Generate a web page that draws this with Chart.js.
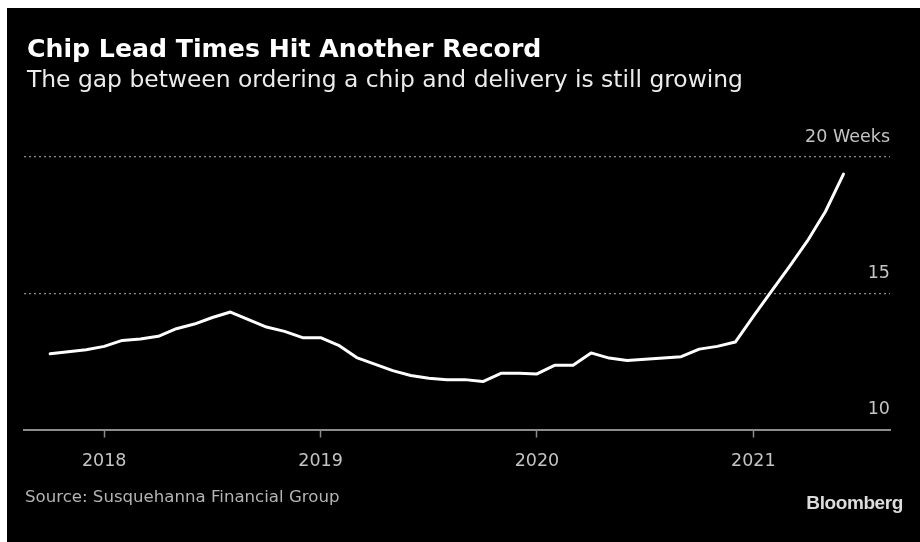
<!DOCTYPE html>
<html>
<head>
    <title>Chip Lead Times Hit Another Record</title>
    <script src="https://cdn.jsdelivr.net/npm/chart.js"></script>
    <style>
        body { margin: 0; background: #fff; width: 920px; height: 542px; overflow: hidden; position: relative; font-family: 'DejaVu Sans', sans-serif; }
        #panel { position: absolute; left: 7px; top: 8px; width: 913px; height: 534px; background: #000; }
        #leadChart { position: absolute; left: 7px; top: 8px; }
        .txt { position: absolute; white-space: nowrap; }
        #title { left: 27px; top: 36px; font-size: 25.2px; line-height: 25px; font-weight: bold; color: #fff; }
        #subtitle { left: 27px; top: 68px; font-size: 23.4px; line-height: 23px; color: #ececec; }
        #source { left: 25px; top: 489px; font-size: 16.6px; line-height: 16.5px; color: #b4b4b4; }
        #brand { right: 17px; top: 493px; font-family: 'Liberation Sans', Arial, sans-serif; font-size: 19px; line-height: 19px; font-weight: bold; color: #dcdcdc; letter-spacing: -0.4px; }
    </style>
</head>
<body>
    <div id="panel"></div>
    <canvas id="leadChart" width="913" height="534"></canvas>
    <div class="txt" id="title">Chip Lead Times Hit Another Record</div>
    <div class="txt" id="subtitle">The gap between ordering a chip and delivery is still growing</div>
    <div class="txt" id="source">Source: Susquehanna Financial Group</div>
    <div class="txt" id="brand">Bloomberg</div>
    <script>
        // monthly lead times in weeks
        const months = [
            '2017-10', '2017-11', '2017-12',
            '2018-01', '2018-02', '2018-03', '2018-04', '2018-05', '2018-06',
            '2018-07', '2018-08', '2018-09', '2018-10', '2018-11', '2018-12',
            '2019-01', '2019-02', '2019-03', '2019-04', '2019-05', '2019-06',
            '2019-07', '2019-08', '2019-09', '2019-10', '2019-11', '2019-12',
            '2020-01', '2020-02', '2020-03', '2020-04', '2020-05', '2020-06',
            '2020-07', '2020-08', '2020-09', '2020-10', '2020-11', '2020-12',
            '2021-01', '2021-02', '2021-03', '2021-04', '2021-05', '2021-06'
        ];
        const leadWeeks = [
            12.78, 12.85, 12.93,
            13.05, 13.27, 13.32, 13.42, 13.70, 13.87,
            14.11, 14.31, 14.03, 13.76, 13.60, 13.37,
            13.37, 13.09, 12.64, 12.40, 12.16, 11.98,
            11.88, 11.83, 11.83, 11.76, 12.06, 12.06,
            12.04, 12.36, 12.36, 12.81, 12.62, 12.53,
            12.58, 12.62, 12.67, 12.95, 13.05, 13.21,
            14.15, 15.07, 15.98, 16.92, 18.00, 19.37
        ];
        const yearTicks = ['2018', '2019', '2020', '2021'];
        const weekTicks = [10, 15, 20];
        const weekTickLabels = ['10', '15', '20 Weeks'];

        // months counted from Jan 2018
        function monthIndex(s) {
            let parts = s.split('-');
            return (parseInt(parts[0]) - 2018) * 12 + parseInt(parts[1]) - 1;
        }
        const points = months.map((m, i) => ({ x: monthIndex(m), y: leadWeeks[i] }));
        const yearPos = yearTicks.map(y => monthIndex(y + '-01'));

        const axisFont = { family: 'DejaVu Sans', size: 17.5 };

        new Chart(document.getElementById('leadChart').getContext('2d'), {
            type: 'line',
            data: {
                datasets: [{
                    data: points,
                    borderColor: '#ffffff',
                    borderWidth: 3,
                    pointRadius: 0,
                    tension: 0,
                    borderJoinStyle: 'round',
                    borderCapStyle: 'round'
                }]
            },
            options: {
                responsive: false,
                animation: false,
                events: [],
                layout: { padding: { left: 17, right: 30, top: 149, bottom: 0 } },
                plugins: { legend: { display: false }, tooltip: { enabled: false } },
                scales: {
                    x: {
                        type: 'linear',
                        min: -4.45,
                        max: 43.58,
                        afterFit: s => { s.height = 112.5; },
                        afterBuildTicks: s => { s.ticks = yearPos.map(v => ({ value: v })); },
                        ticks: {
                            color: '#c4c4c4',
                            font: axisFont,
                            padding: 13,
                            maxRotation: 0,
                            callback: (v) => yearTicks[yearPos.indexOf(v)]
                        },
                        grid: {
                            drawOnChartArea: false,
                            drawTicks: true,
                            tickLength: 8,
                            tickColor: '#8c8c8c',
                            tickWidth: 1.5
                        },
                        border: { display: true, color: '#8c8c8c', width: 2 }
                    },
                    y: {
                        position: 'right',
                        min: 10,
                        max: 20,
                        afterFit: s => { s.width = 0; },
                        afterBuildTicks: s => { s.ticks = weekTicks.map(v => ({ value: v })); },
                        ticks: {
                            mirror: true,
                            padding: 0,
                            labelOffset: -20,
                            color: '#c4c4c4',
                            font: axisFont,
                            callback: (v) => weekTickLabels[weekTicks.indexOf(v)]
                        },
                        grid: {
                            drawTicks: false,
                            color: ctx => (ctx.tick && ctx.tick.value === 10) ? 'rgba(0,0,0,0)' : '#8a8a8a',
                            lineWidth: 1.2
                        },
                        // dotted grid lines
                        border: { display: false, dash: [2, 3] }
                    }
                }
            }
        });
    </script>
</body>
</html>
